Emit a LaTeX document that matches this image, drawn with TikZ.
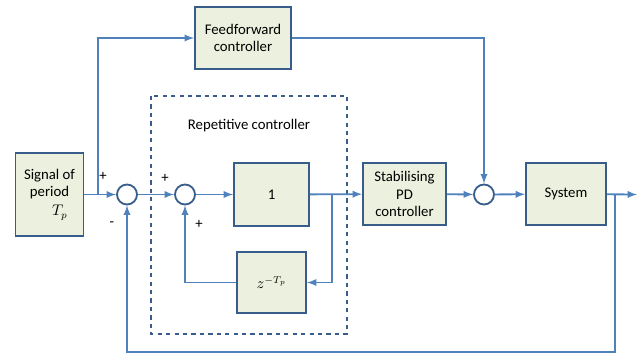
\documentclass[tikz,border=0pt]{standalone}
\usepackage{fontspec}
\setmainfont{Carlito}
\usetikzlibrary{calc}
\definecolor{wire}{RGB}{79,129,189}
\definecolor{edge}{RGB}{56,93,138}
\definecolor{boxfill}{RGB}{235,241,222}
\begin{document}
\begin{tikzpicture}[x=0.025cm, y=-0.025cm, >=latex,
    blk/.style={draw=edge, line width=1.3pt, fill=boxfill, align=center, inner sep=1pt,
        font=\fontsize{10.5}{12.5}\selectfont},
    sumnode/.style={circle, draw=edge, line width=1.3pt, fill=white, minimum size=0.5cm, inner sep=0pt},
    wirestyle/.style={draw=wire, line width=1.3pt, ->},
    sign/.style={font=\fontsize{10.5}{12}\selectfont}]
\useasboundingbox (0,0) rectangle (637,356);

\draw[edge, dashed, line width=1.2pt] (151,96) rectangle (347,334);
\node at (249,126)[font=\fontsize{10.5}{12.5}\selectfont]{Repetitive controller};

\node (sig) at (49.5,194.5)[blk, minimum width=1.7cm, minimum height=2.075cm]{Signal of\\period\\[1pt]\hspace*{1.4em}$T_p$};
\node (ff) at (243,38)[blk, minimum width=2.4cm, minimum height=1.55cm]{Feedforward\\controller};
\node (one) at (271.5,194.5)[blk, minimum width=1.875cm, minimum height=1.575cm]{1};
\node (zb) at (271.5,282.5)[blk, minimum width=1.725cm, minimum height=1.525cm]{$z^{-T_p}$};
\node (pd) at (404.5,194)[blk, minimum width=2.075cm, minimum height=1.55cm]{Stabilising\\PD\\controller};
\node (sys) at (566,194)[blk, minimum width=2cm, minimum height=1.55cm]{System};

\node (s1) at (127,194.5)[sumnode]{};
\node (s2) at (185,194.5)[sumnode]{};
\node (s3) at (484,194.5)[sumnode]{};

\coordinate (ffsplit) at (98,194.5);
\coordinate (rsplit) at (332,194.5);
\coordinate (osplit) at (615,194.5);
\coordinate (out) at (637,194.5);
\coordinate (fbturn) at (615,352);

\draw[wirestyle] (sig) -- (s1);
\draw[wirestyle] (ffsplit) |- (ff.west);
\draw[wirestyle] (s1) -- (s2);
\draw[wirestyle] (s2) -- (one);
\draw[wirestyle] (one) -- (pd);
\draw[wirestyle] (rsplit) |- (zb.east);
\draw[wirestyle] (zb.west) -| (s2.south);
\draw[wirestyle] (pd) -- (s3);
\draw[wirestyle] (ff.east) -| (s3.north);
\draw[wirestyle] (s3) -- (sys);
\draw[wirestyle] (sys) -- (out);
\draw[wirestyle] (osplit) -- (fbturn) -| (s1.south);

\foreach \px/\py/\stext in {103/176/+, 112/224/-, 165/178/+, 199/224/+}
{
    \node at (\px,\py)[sign]{\stext};
}
\end{tikzpicture}
\end{document}
